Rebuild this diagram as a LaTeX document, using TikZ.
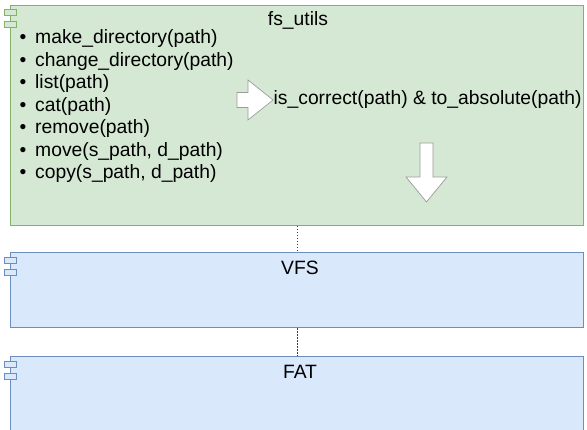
\documentclass[tikz,border=0pt]{standalone}
\usepackage{fontspec}
\setmainfont{Liberation Sans}
\definecolor{fsback}{HTML}{D5E8D4}
\definecolor{fsline}{HTML}{82B366}
\definecolor{vfsback}{HTML}{DAE8FC}
\definecolor{vfsline}{HTML}{6C8EBF}
\definecolor{arrowline}{HTML}{9A9A9A}

\begin{document}
\begin{tikzpicture}[x=1pt, y=-1pt,
    layer/.style ={rectangle, draw, line width=0.8pt, anchor=north west, inner sep=0pt, minimum width=573pt},
    title/.style ={inner sep=0pt, font=\fontsize{19.3}{22.5}\selectfont},
    method/.style ={inner sep=0pt, anchor=base west, font=\fontsize{19.3}{22.5}\selectfont},
    blockarrow/.style ={fill=white, draw=arrowline, line width=0.7pt, line join=miter},
    link/.style ={draw=black!75, line width=0.6pt, dash pattern=on 1.5pt off 1.5pt}]
   \useasboundingbox (0,0) rectangle (587,430);
   \clip (0,0) rectangle (587,430);

   \node[layer, fill=fsback, draw=fsline, minimum height=220.3pt] (fs) at (10,4.7) {};
   \node[layer, fill=vfsback, draw=vfsline, minimum height=75.3pt] (vfs) at (10,252) {};
   \node[layer, fill=vfsback, draw=vfsline, minimum height=110pt] (fat) at (10,356) {};

   \draw[link] (fs) -- (vfs);
   \draw[link] (vfs) -- (fat);

   % component icons
   \foreach \top/\back/\line in {4.7/fsback/fsline, 252/vfsback/vfsline, 356/vfsback/vfsline}{
     \draw[fill=\back, draw=\line, line width=0.7pt] (4,\top+5) rectangle (16,\top+11);
     \draw[fill=\back, draw=\line, line width=0.7pt] (4,\top+17) rectangle (16,\top+23);
   }

   \node[title] (fstitle) at (298,20) {fs\_utils};
   \node[title] (vfstitle) at (300,268) {VFS};
   \node[title] (fattitle) at (300,372) {FAT};

   \foreach \name [count=\i from 0] in {make\_directory(path), change\_directory(path), list(path),
       cat(path), remove(path), {move(s\_path, d\_path)}, {copy(s\_path, d\_path)}}
     \node[method] (method\i) at (19.4,44+22.5*\i) {\makebox[15.6pt][l]{•}\name};

   \draw[blockarrow] (237,92.5) -- (248,92.5) -- (248,80) -- (273,100) -- (248,120)
       -- (248,107.5) -- (237,107.5) -- cycle;
   \node[title, anchor=west] (check) at (273.5,100) {is\_correct(path) \& to\_absolute(path)};
   \draw[blockarrow] (420,143) -- (433,143) -- (433,177) -- (447,177) -- (426.5,202)
       -- (406,177) -- (420,177) -- cycle;
 \end{tikzpicture}
\end{document}
